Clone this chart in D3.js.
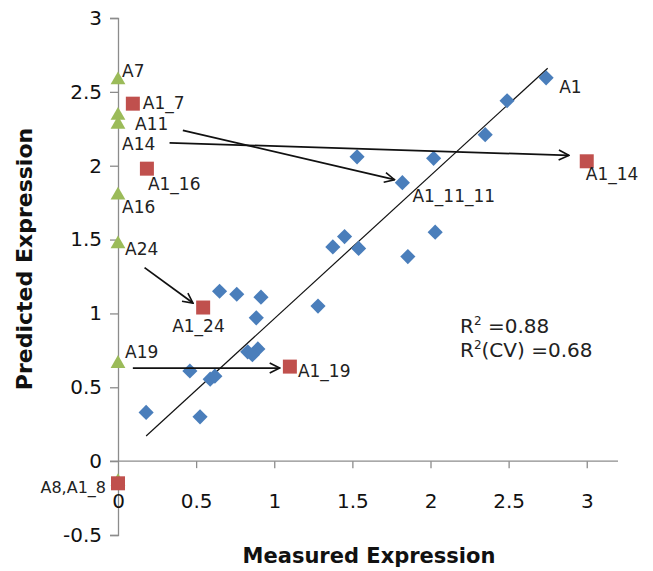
<!DOCTYPE html>
<html>
<head>
<meta charset="utf-8">
<script src="https://cdn.jsdelivr.net/npm/d3@7"></script>
<style>
body { margin: 0; background: #fff; }
svg { display: block; }
text { font-family: "DejaVu Sans", Verdana, sans-serif; }
</style>
</head>
<body>
<div id="chart"></div>
<script>
// blue diamonds (measured vs predicted)
const blueX = [2.74, 2.49, 2.35, 1.53, 2.02, 1.82, 1.375, 1.45, 1.54, 2.03, 1.855,
    0.65, 0.76, 0.915, 0.885, 1.28, 0.83, 0.895, 0.86, 0.46, 0.59, 0.62, 0.18, 0.525];
const blueY = [2.595, 2.44, 2.21, 2.06, 2.05, 1.885, 1.45, 1.52, 1.44, 1.55, 1.385,
    1.15, 1.13, 1.11, 0.97, 1.05, 0.74, 0.76, 0.72, 0.61, 0.555, 0.575, 0.33, 0.30];

// green triangles, all at measured = 0
const greenNames = ["A7", "A11", "A14", "A16", "A24", "A19", "A8"];
const greenY = [2.58, 2.34, 2.28, 1.80, 1.47, 0.66, -0.14];

// red squares
const redNames = ["A1_7", "A1_16", "A1_24", "A1_19", "A1_14", "A1_8"];
const redX = [0.095, 0.185, 0.545, 1.10, 3.0, 0];
const redY = [2.42, 1.98, 1.04, 0.64, 2.03, -0.15];

// arrows [x, y] start and end
const arrowFrom = [[0.415, 2.24], [0.33, 2.155], [0.17, 1.31], [0.095, 0.63]];
const arrowTo = [[1.77, 1.905], [2.885, 2.07], [0.48, 1.07], [1.035, 0.63]];

// fitted line ends
const fitX = [0.18, 2.75];
const fitY = [0.17, 2.66];

const xTicks = [0, 0.5, 1, 1.5, 2, 2.5, 3];
const yTicks = [-0.5, 0, 0.5, 1, 1.5, 2, 2.5, 3];

const width = 653, height = 571;
const svg = d3.select("#chart").append("svg").attr("width", width).attr("height", height);

const x = d3.scaleLinear().domain([0, 3.2]).range([118, 618]);
const y = d3.scaleLinear().domain([-0.5, 3]).range([535, 18]);

const axisColor = "#8c8c8c";
const fmt = function(d) { return String(d); };

// y axis
const gy = svg.append("g").attr("transform", "translate(" + x(0) + ",0)")
    .call(d3.axisLeft(y).tickValues(yTicks).tickSize(8).tickPadding(8).tickFormat(fmt));
gy.select(".domain").attr("stroke", axisColor).attr("stroke-width", 1.3);
gy.selectAll(".tick line").attr("stroke", axisColor).attr("stroke-width", 1.3);
gy.selectAll(".tick text").attr("font-size", 20).attr("fill", "#111")
    .attr("font-family", "DejaVu Sans");

// x axis at y = 0, labels pushed to the bottom
const gx = svg.append("g").attr("transform", "translate(0," + y(0) + ")")
    .call(d3.axisBottom(x).tickValues(xTicks).tickSize(7).tickSizeOuter(0).tickFormat(fmt));
gx.select(".domain").attr("stroke", axisColor).attr("stroke-width", 1.3)
    .attr("d", "M" + (x(0) - 8) + ",0H" + x(3.2));
gx.selectAll(".tick line").attr("stroke", axisColor).attr("stroke-width", 1.3);
gx.selectAll(".tick").filter(function(d) { return d === 0; }).select("line").remove();
gx.selectAll(".tick text").attr("font-size", 20).attr("fill", "#111")
    .attr("font-family", "DejaVu Sans").attr("dy", null).attr("y", 508 - y(0));

// titles
svg.append("text").attr("x", 369).attr("y", 563).attr("text-anchor", "middle")
    .attr("font-size", 21).attr("font-weight", "bold").attr("fill", "#111")
    .text("Measured Expression");
svg.append("text").attr("transform", "translate(32,259) rotate(-90)")
    .attr("text-anchor", "middle").attr("font-size", 22).attr("font-weight", "bold")
    .attr("fill", "#111").text("Predicted Expression");

// fitted line
svg.append("line")
    .attr("x1", x(fitX[0])).attr("y1", y(fitY[0]))
    .attr("x2", x(fitX[1])).attr("y2", y(fitY[1]))
    .attr("stroke", "#111").attr("stroke-width", 1.2);

// blue diamonds
svg.selectAll("path.blue").data(d3.range(blueX.length)).enter().append("path")
    .attr("class", "blue")
    .attr("d", d3.symbol(d3.symbolSquare, 115))
    .attr("transform", function(i) { return "translate(" + x(blueX[i]) + "," + y(blueY[i]) + ") rotate(45)"; })
    .attr("fill", "#4a7ebb");

// green triangles
svg.selectAll("path.green").data(d3.range(greenY.length)).enter().append("path")
    .attr("class", "green")
    .attr("d", d3.symbol(d3.symbolTriangle, 95))
    .attr("transform", function(i) { return "translate(" + x(0) + "," + y(greenY[i]) + ")"; })
    .attr("fill", "#9bbb59");

// red squares
svg.selectAll("path.red").data(d3.range(redX.length)).enter().append("path")
    .attr("class", "red")
    .attr("d", d3.symbol(d3.symbolSquare, 196))
    .attr("transform", function(i) { return "translate(" + x(redX[i]) + "," + y(redY[i]) + ")"; })
    .attr("fill", "#c0504d");

// arrows
svg.append("defs").append("marker").attr("id", "head")
    .attr("viewBox", "0 0 12 12").attr("refX", 11).attr("refY", 6)
    .attr("markerWidth", 12).attr("markerHeight", 12)
    .attr("markerUnits", "userSpaceOnUse").attr("orient", "auto")
    .append("path").attr("d", "M1,1 L11,6 L1,11")
    .attr("fill", "none").attr("stroke", "#111").attr("stroke-width", 1.6);
svg.selectAll("line.arrow").data(d3.range(arrowFrom.length)).enter().append("line")
    .attr("class", "arrow")
    .attr("x1", function(i) { return x(arrowFrom[i][0]); })
    .attr("y1", function(i) { return y(arrowFrom[i][1]); })
    .attr("x2", function(i) { return x(arrowTo[i][0]); })
    .attr("y2", function(i) { return y(arrowTo[i][1]); })
    .attr("stroke", "#111").attr("stroke-width", 1.8)
    .attr("marker-end", "url(#head)");

// point labels: [text, x, y, dx, dy, anchor]
var labels = [];
var greenOff = { "A7": [4, -3], "A11": [17, 15], "A14": [4, 26], "A16": [4, 18], "A24": [7, 11], "A19": [7, -6] };
for (var i in greenNames) {
    if (greenOff[greenNames[i]])
        labels.push([greenNames[i], 0, greenY[i], greenOff[greenNames[i]][0], greenOff[greenNames[i]][1], "start"]);
}
var redOff = { "A1_7": [10, 5], "A1_16": [1, 21], "A1_24": [-31, 24], "A1_19": [8, 10], "A1_14": [-1, 19] };
for (var j in redNames) {
    if (redOff[redNames[j]])
        labels.push([redNames[j], redX[j], redY[j], redOff[redNames[j]][0], redOff[redNames[j]][1], "start"]);
}
labels.push(["A8,A1_8", redX[5], redY[5], -12, 10, "end"]);
labels.push(["A1_11_11", blueX[5], blueY[5], 10, 19, "start"]);
labels.push(["A1", blueX[0], blueY[0], 13, 15, "start"]);

svg.selectAll("text.lab").data(labels).enter().append("text")
    .attr("class", "lab")
    .attr("x", function(d) { return x(d[1]) + d[3]; })
    .attr("y", function(d) { return y(d[2]) + d[4]; })
    .attr("text-anchor", function(d) { return d[5]; })
    .attr("font-size", function(d) { return d[0] === "A8,A1_8" ? 16 : 17; })
    .attr("fill", "#222")
    .text(function(d) { return d[0]; });

// R squared notes
const r2 = svg.append("text").attr("x", 460).attr("y", 333).attr("font-size", 20).attr("fill", "#222");
r2.append("tspan").text("R");
r2.append("tspan").attr("font-size", 12).attr("dy", -8).text("2");
r2.append("tspan").attr("dy", 8).text(" =0.88");
const r2cv = svg.append("text").attr("x", 460).attr("y", 357).attr("font-size", 20).attr("fill", "#222");
r2cv.append("tspan").text("R");
r2cv.append("tspan").attr("font-size", 12).attr("dy", -8).text("2");
r2cv.append("tspan").attr("dy", 8).text("(CV) =0.68");
</script>
</body>
</html>
